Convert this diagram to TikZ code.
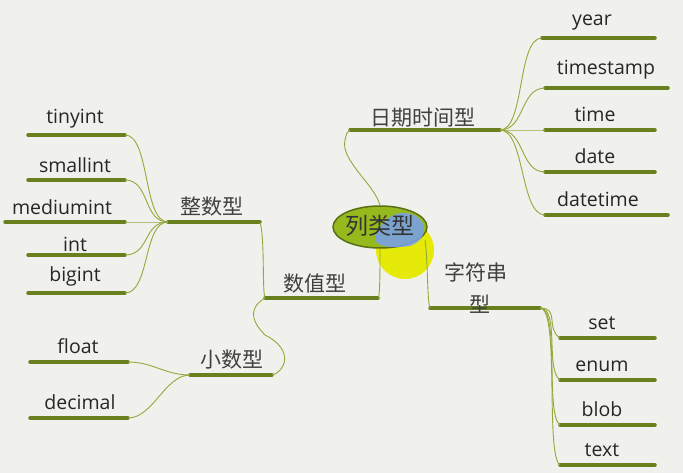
\documentclass[tikz,border=0pt]{standalone}
\usepackage{fontspec}
\usetikzlibrary{shapes.geometric}
\setmainfont{Open Sans}
\newfontfamily\cjk{Noto Sans CJK SC}
\definecolor{bgc}{RGB}{240,240,237}
\definecolor{barc}{RGB}{104,128,30}
\definecolor{connc}{RGB}{150,168,60}
\definecolor{ellc}{RGB}{150,185,30}
\definecolor{elld}{RGB}{90,110,20}
\definecolor{bluec}{RGB}{120,160,240}
\begin{document}
\begin{tikzpicture}[x=1pt,y=-1pt,
  bar/.style={line width=3.5pt,draw=barc,line cap=round},
  conn/.style={draw=connc,line width=0.9pt},
  lbl/.style={font=\fontsize{19.5}{22}\selectfont,text=black!85,inner sep=1pt},
  zh/.style={font=\cjk\fontsize{21}{23}\selectfont,text=black!75,inner sep=1pt}]
\useasboundingbox (0,0) rectangle (683,473);
\fill[bgc] (0,0) rectangle (683,473);
\def\mkbar#1#2#3#4{\coordinate (#1L) at (#2,#4);\coordinate (#1R) at (#3,#4);\draw[bar] (#1L)--(#1R);}
% center
\fill[yellow!90!green] (405,250) circle (29);
\node[ellipse,draw=elld,line width=1.5pt,fill=ellc,minimum width=94,minimum height=42] (c) at (380,227) {};
\fill[bluec,opacity=0.85] (403,213) .. controls (427,213) and (432,238) .. (410,246) .. controls (390,249) and (374,246) .. (375,238) .. controls (380,224) and (390,213) .. (403,213);
\node[font=\cjk\fontsize{23}{25}\selectfont,text=black!80] at (380,226) {列类型};
% date branch
\mkbar{dt}{350}{500}{130}
\node[zh,anchor=south] (dtT) at (423,128) {日期时间型};
\draw[conn] (c.north) .. controls (375,185) and (340,160) .. (345,140) .. controls (347,132) .. (dtL);
\mkbar{year}{542}{655}{38}   \node[lbl,anchor=south] at (592,31) {year};
\mkbar{ts}{545}{668}{88}    \node[lbl,anchor=south] at (606,80) {timestamp};
\mkbar{time}{545}{655}{130} \node[lbl,anchor=south] at (595,123) {time};
\mkbar{date}{545}{655}{172} \node[lbl,anchor=south] at (595,165) {date};
\mkbar{dtm}{545}{668}{215}  \node[lbl,anchor=south] at (598,208) {datetime};
\foreach \t in {year,ts,time,date,dtm}
  \draw[conn] (dtR) .. controls +(25,0) and +(-25,0) .. (\t L);
% numeric branch
\mkbar{num}{265}{378}{298}
\node[zh,anchor=south] (numT) at (315,294) {数值型};
\draw[conn] (c.south) .. controls (380,270) and (380,298) .. (numR);
\mkbar{int}{168}{260}{222}
\node[zh,anchor=south] (intT) at (212,217) {整数型};
\draw[conn] (intR) .. controls (265,240) and (262,290) .. (numL);
\mkbar{dec}{190}{272}{375}
\node[zh,anchor=south] (decT) at (232,370) {小数型};
\draw[conn] (numL) .. controls (245,310) and (255,325) .. (265,335) .. controls (295,350) and (285,372) .. (decR);
\mkbar{ti}{28}{125}{135}  \node[lbl,anchor=south] at (75,129) {tinyint};
\mkbar{si}{28}{125}{180}  \node[lbl,anchor=south] at (75,174) {smallint};
\mkbar{mi}{5}{125}{222}   \node[lbl,anchor=south] at (62,216) {mediumint};
\mkbar{ii}{28}{125}{255}  \node[lbl,anchor=south] at (75,253) {int};
\mkbar{bi}{28}{125}{293}  \node[lbl,anchor=south] at (75,287) {bigint};
\foreach \t in {ti,si,mi,ii,bi}
  \draw[conn] (intL) .. controls +(-25,0) and +(25,0) .. (\t R);
\mkbar{fl}{30}{128}{362}  \node[lbl,anchor=south] at (78,355) {float};
\mkbar{de}{30}{128}{418}  \node[lbl,anchor=south] at (80,411) {decimal};
\foreach \t in {fl,de}
  \draw[conn] (decL) .. controls +(-25,0) and +(25,0) .. (\t R);
% string branch
\mkbar{str}{430}{540}{308}
\node[zh,anchor=south] (strT) at (476,283) {字符串};
\node[zh,anchor=south] (strT2) at (480,315) {型};
\coordinate (cs) at (425,240);
\draw[conn] (cs) .. controls (428,260) and (427,300) .. (strL);
\mkbar{set}{560}{655}{338}  \node[lbl,anchor=south] at (602,331) {set};
\mkbar{en}{560}{655}{380}   \node[lbl,anchor=south] at (602,373) {enum};
\mkbar{bl}{560}{655}{425}   \node[lbl,anchor=south] at (602,418) {blob};
\mkbar{tx}{560}{655}{465}   \node[lbl,anchor=south] at (602,458) {text};
\foreach \t in {set,en,bl,tx}
  \draw[conn] (strR) .. controls +(20,0) and +(-15,-10) .. (\t L);
\end{tikzpicture}
\end{document}
